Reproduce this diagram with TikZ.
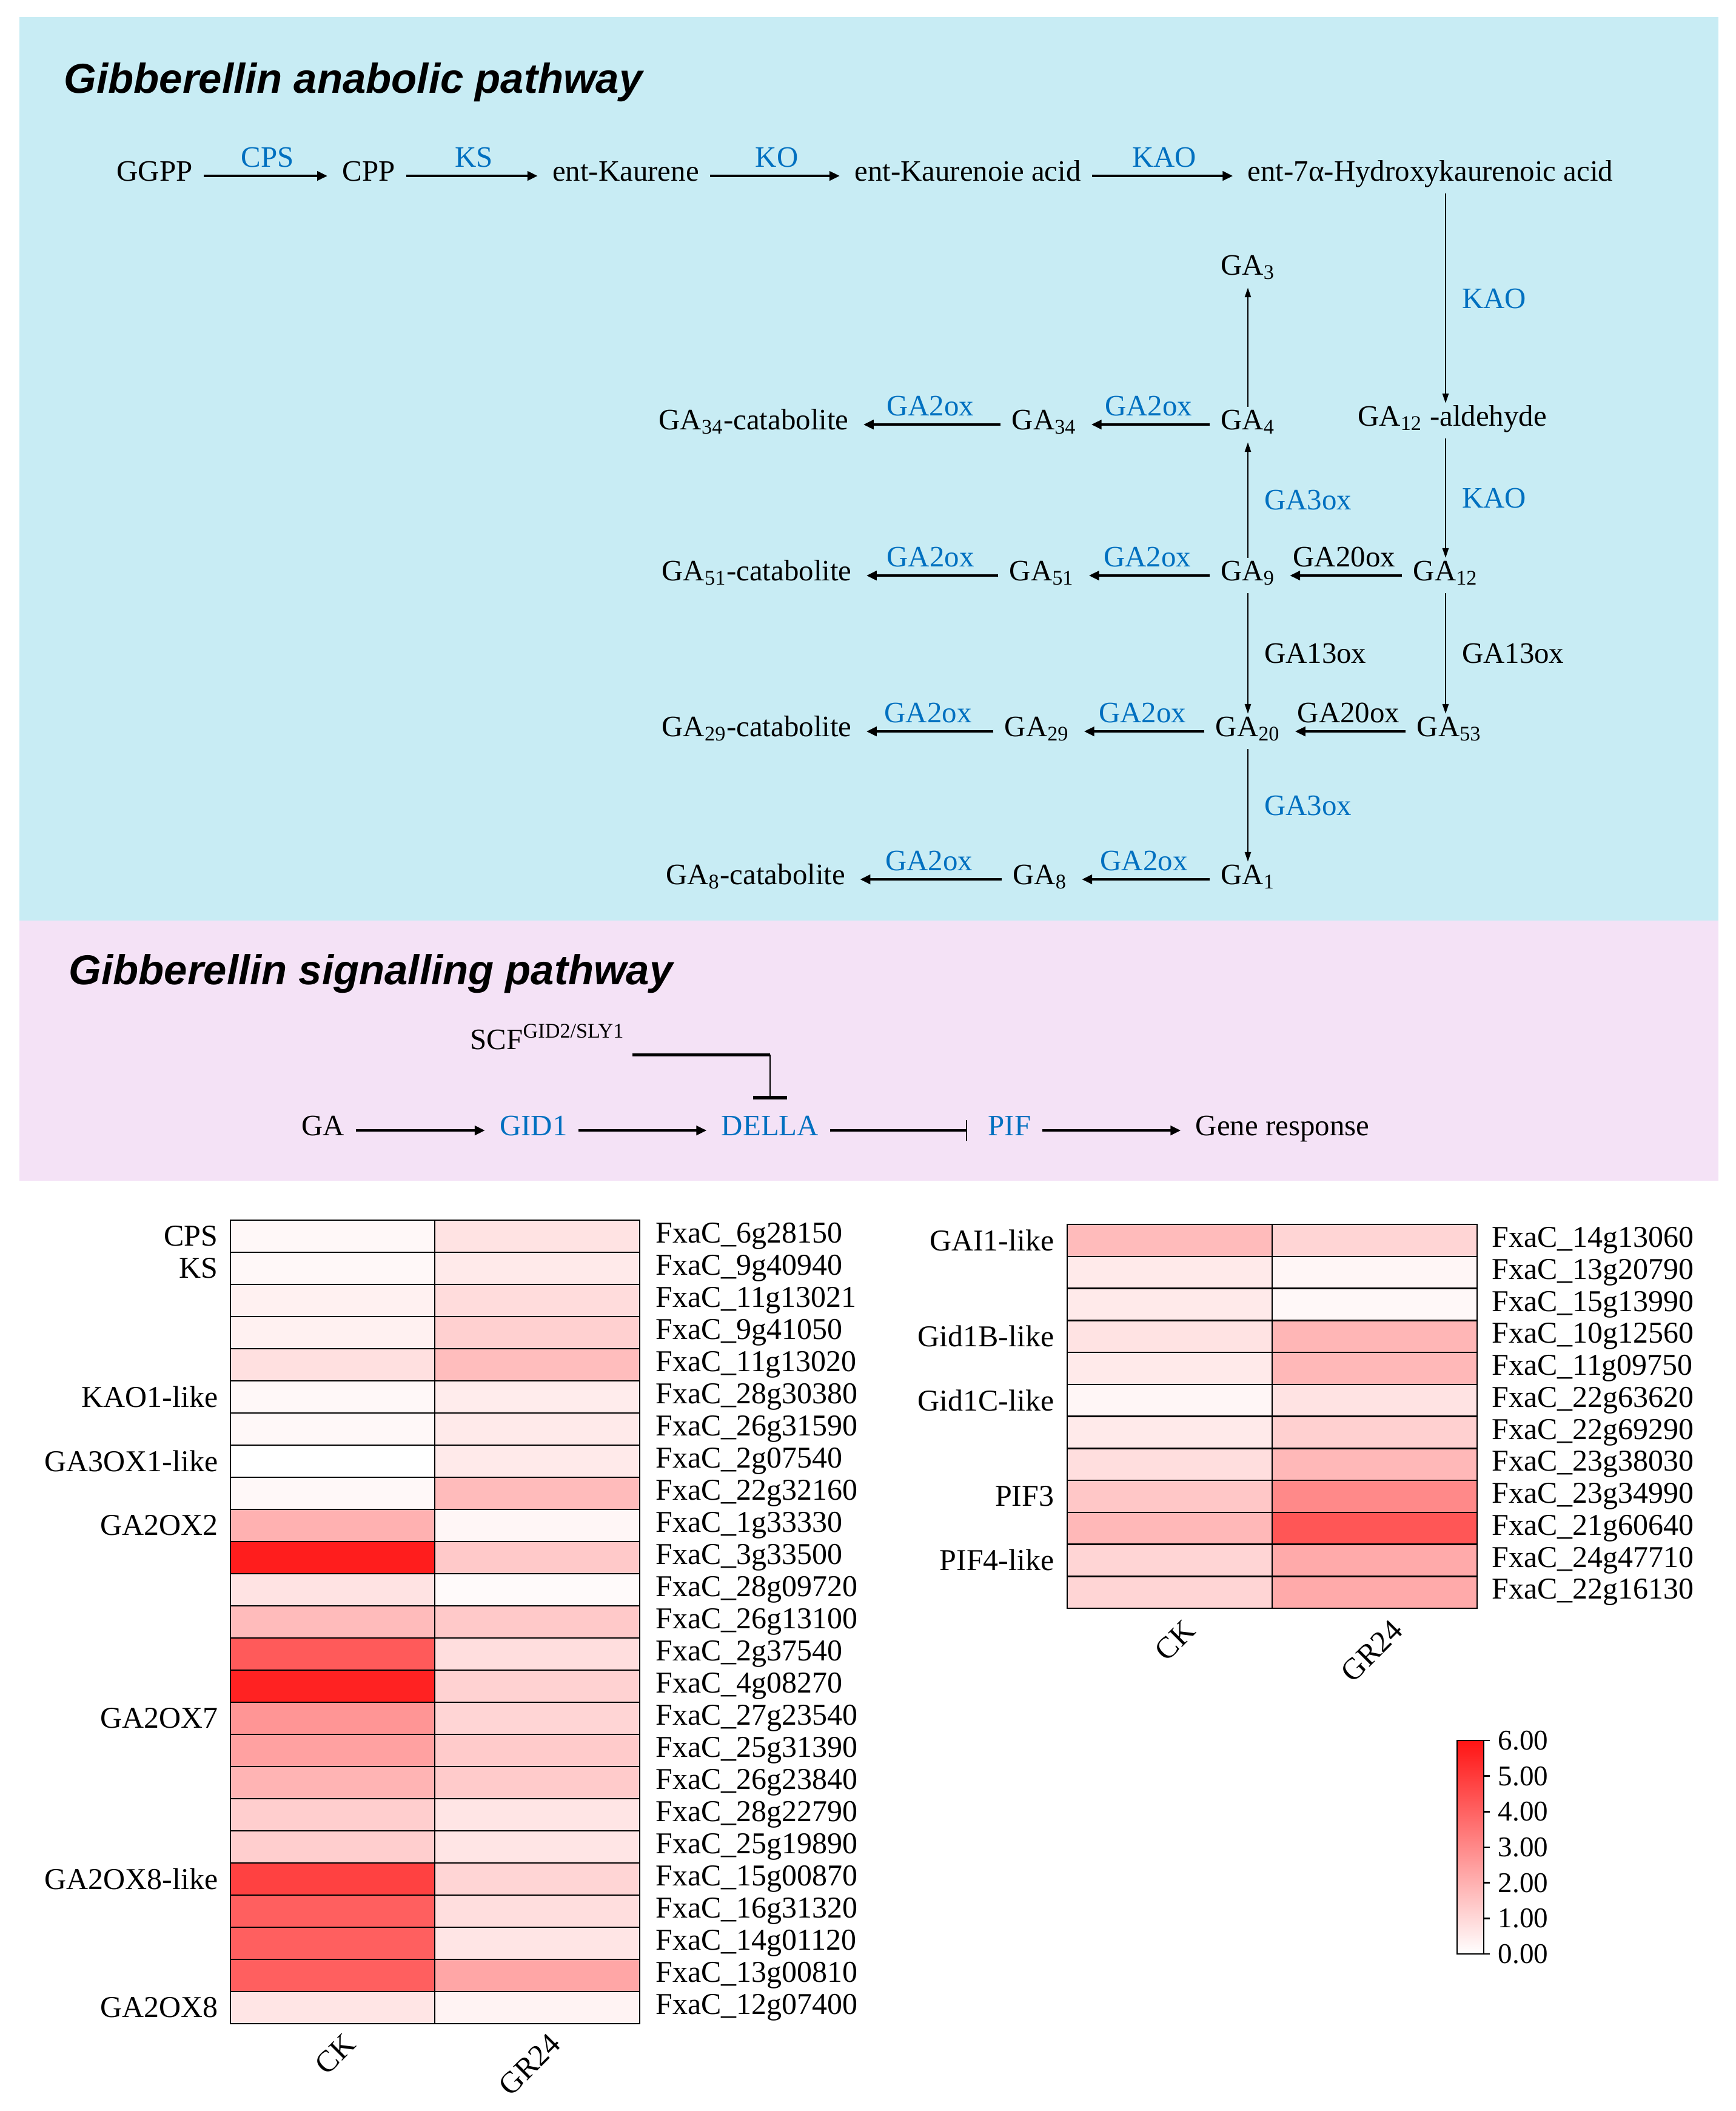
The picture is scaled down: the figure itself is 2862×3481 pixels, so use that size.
\documentclass[tikz,border=0pt]{standalone}
\usepackage{fontspec}
\setmainfont{Liberation Serif}
\newfontfamily\headfont{Liberation Sans}
\usetikzlibrary{arrows.meta}
\definecolor{anabg}{RGB}{200,236,244}
\definecolor{sigbg}{RGB}{244,226,246}
\definecolor{enzblue}{RGB}{0,112,192}
\definecolor{hmred}{RGB}{255,20,20}

\begin{document}
\begin{tikzpicture}[x=0.01cm, y=-0.01cm,
  cmp/.style={font=\fontsize{13.9}{16}\selectfont, text height=0.7em, text depth=0.25em, anchor=base},
  enz/.style={font=\fontsize{13.9}{16}\selectfont, text=enzblue},
  enzk/.style={font=\fontsize{13.9}{16}\selectfont},
  rxn/.style={line width=1.3pt, shorten <=0.06cm, shorten >=0.12cm, -{Triangle[length=0.17cm,width=0.15cm]}},
  rxnv/.style={line width=0.75pt, -{Triangle[length=0.16cm,width=0.1cm]}},
  blk/.style={line width=1.3pt, -{Bar[width=0.34cm,line width=0.75pt]}},
  head/.style={font=\headfont\fontsize{19.6}{22}\selectfont\bfseries\itshape, anchor=base west, inner sep=0pt},
  hm/.style={font=\fontsize{14.2}{16}\selectfont, inner sep=0pt},
  cell/.style={draw=black, line width=0.7pt}]
\fill[white] (0,0) rectangle (2862,3481);
\useasboundingbox (0,0) rectangle (2862,3481);
\fill[anabg] (32,28) rectangle (2834,1518);
\fill[sigbg] (32,1518) rectangle (2834,1947);

\node[head] (anatitle) at (105,153) {Gibberellin anabolic pathway};
\node[head] (sigtitle) at (113,1623) {Gibberellin signalling pathway};

\node[cmp] (ggpp) at (255,298) {GGPP};
\node[cmp] (cpp) at (608,298) {CPP};
\node[cmp] (kaurene) at (1032,298) {ent-Kaurene};
\node[cmp] (kacid) at (1596,298) {ent-Kaurenoie acid};
\node[cmp] (hacid) at (2359,298) {ent-7α-Hydroxykaurenoic acid};
\node[cmp] (ga3) at (2058,453) {GA\textsubscript{3}};
\node[cmp] (ga4) at (2058,708) {GA\textsubscript{4}};
\node[cmp] (ga34) at (1722,708) {GA\textsubscript{34}};
\node[cmp] (ga34c) at (1243,708) {GA\textsubscript{34}-catabolite};
\node[cmp] (ga12ald) at (2395,702) {GA\textsubscript{12} -aldehyde};
\node[cmp] (ga9) at (2058,957) {GA\textsubscript{9}};
\node[cmp] (ga51) at (1718,957) {GA\textsubscript{51}};
\node[cmp] (ga51c) at (1248,957) {GA\textsubscript{51}-catabolite};
\node[cmp] (ga12) at (2384,957) {GA\textsubscript{12}};
\node[cmp] (ga20) at (2058,1214) {GA\textsubscript{20}};
\node[cmp] (ga29) at (1710,1214) {GA\textsubscript{29}};
\node[cmp] (ga29c) at (1248,1214) {GA\textsubscript{29}-catabolite};
\node[cmp] (ga53) at (2390,1214) {GA\textsubscript{53}};
\node[cmp] (ga1) at (2058,1458) {GA\textsubscript{1}};
\node[cmp] (ga8) at (1715,1458) {GA\textsubscript{8}};
\node[cmp] (ga8c) at (1246,1458) {GA\textsubscript{8}-catabolite};

\draw[rxn] (ggpp) -- node[enz,above] {CPS} (cpp);
\draw[rxn] (cpp) -- node[enz,above] {KS} (kaurene);
\draw[rxn] (kaurene) -- node[enz,above] {KO} (kacid);
\draw[rxn] (kacid) -- node[enz,above] {KAO} (hacid);
\draw[rxnv] (hacid.south -| ga12) -- node[enz,right,xshift=0.14cm] {KAO} (ga12ald.north -| ga12);
\draw[rxnv] (ga12ald.south -| ga12) -- node[enz,right,xshift=0.14cm] {KAO} (ga12);
\draw[rxnv] (ga12) -- node[enzk,right,xshift=0.14cm] {GA13ox} (ga12 |- ga53.north);
\draw[rxn] (ga12) -- node[enzk,above] {GA20ox} (ga9);
\draw[rxn] (ga53) -- node[enzk,above] {GA20ox} (ga20);
\draw[rxnv] (ga9) -- node[enz,right,xshift=0.14cm] {GA3ox} (ga4);
\draw[rxnv] (ga4) -- (ga3);
\draw[rxnv] (ga9) -- node[enzk,right,xshift=0.14cm] {GA13ox} (ga20);
\draw[rxnv] (ga20) -- node[enz,right,xshift=0.14cm] {GA3ox} (ga1);
\draw[rxn] (ga4) -- node[enz,above] {GA2ox} (ga34);
\draw[rxn] (ga34) -- node[enz,above] {GA2ox} (ga34c);
\draw[rxn] (ga9) -- node[enz,above] {GA2ox} (ga51);
\draw[rxn] (ga51) -- node[enz,above] {GA2ox} (ga51c);
\draw[rxn] (ga20) -- node[enz,above] {GA2ox} (ga29);
\draw[rxn] (ga29) -- node[enz,above] {GA2ox} (ga29c);
\draw[rxn] (ga1) -- node[enz,above] {GA2ox} (ga8);
\draw[rxn] (ga8) -- node[enz,above] {GA2ox} (ga8c);

\node[cmp] (scf) at (903,1730) {SCF\textsuperscript{GID2/SLY1}};
\node[cmp] (ga) at (533,1872) {GA};
\node[cmp,text=enzblue] (gid1) at (880,1872) {GID1};
\node[cmp,text=enzblue] (della) at (1270,1872) {DELLA};
\node[cmp,text=enzblue] (pif) at (1665,1872) {PIF};
\node[cmp] (generesp) at (2115,1872) {Gene response};
\draw[rxn] (ga) -- (gid1);
\draw[rxn] (gid1) -- (della);
\draw[blk, shorten <=0.06cm, shorten >=0.22cm] (della) -- (pif);
\draw[rxn] (pif) -- (generesp);
\coordinate (scfout) at ([yshift=0.12cm]scf.south east);
\draw[line width=1.4pt] (scfout) -- (scfout -| della) coordinate (scfbend);
\draw[line width=0.75pt, -{Bar[width=0.55cm,line width=1.6pt]}] (scfbend) -- ([yshift=0.22cm]della.north);

\foreach \gene/\ck/\gr [count=\i] in {6g28150/3/12, 9g40940/3/9, 11g13021/6/15, 9g41050/6/20, 11g13020/13/28, 28g30380/3/8, 26g31590/3/9, 2g07540/0/9, 22g32160/3/29, 1g33330/33/4, 3g33500/96/23, 28g09720/12/2, 26g13100/29/23, 2g37540/70/14, 4g08270/94/19, 27g23540/45/18, 25g31390/40/22, 26g23840/32/22, 28g22790/21/11, 25g19890/21/11, 15g00870/81/18, 16g31320/68/14, 14g01120/68/11, 13g00810/68/38, 12g07400/11/5}{
  \filldraw[cell, fill=hmred!\ck!white] (380,{2012+(\i-1)*53}) rectangle (717,{2012+\i*53});
  \filldraw[cell, fill=hmred!\gr!white] (717,{2012+(\i-1)*53}) rectangle (1055,{2012+\i*53});
  \node[hm, anchor=west] (genL\i) at (1081,{2012+(\i-0.5)*53}) {FxaC\_\gene};
}
\foreach \grp/\r in {CPS/1, KS/2, KAO1-like/6, GA3OX1-like/8, GA2OX2/10, GA2OX7/16, GA2OX8-like/21, GA2OX8/25}
  \node[hm, anchor=east] (grpL\r) at (360,{2012+(\r-0.5)*53}) {\grp};
\node[hm, rotate=45, anchor=east] (ckL) at (578,3362) {CK};
\node[hm, rotate=45, anchor=east] (gr24L) at (916,3362) {GR24};

\foreach \gene/\ck/\gr [count=\i] in {14g13060/29/18, 13g20790/9/4, 15g13990/9/3, 10g12560/12/31, 11g09750/9/30, 22g63620/4/12, 22g69290/9/20, 23g38030/14/30, 23g34990/24/50, 21g60640/30/72, 24g47710/18/36, 22g16130/18/36}{
  \filldraw[cell, fill=hmred!\ck!white] (1760,{2019+(\i-1)*52.75}) rectangle (2098,{2019+\i*52.75});
  \filldraw[cell, fill=hmred!\gr!white] (2098,{2019+(\i-1)*52.75}) rectangle (2436,{2019+\i*52.75});
  \node[hm, anchor=west] (genR\i) at (2460,{2019+(\i-0.5)*52.75}) {FxaC\_\gene};
}
\foreach \grp/\r in {GAI1-like/1, Gid1B-like/4, Gid1C-like/6, PIF3/9, PIF4-like/11}
  \node[hm, anchor=east] (grpR\r) at (1739,{2019+(\r-0.5)*52.75}) {\grp};
\node[hm, rotate=45, anchor=east] (ckR) at (1963,2680) {CK};
\node[hm, rotate=45, anchor=east] (gr24R) at (2305,2680) {GR24};

\shade[bottom color=white, top color=hmred] (2403,2870) rectangle (2447,3222);
\draw[line width=0.7pt] (2403,2870) rectangle (2447,3222);
\foreach \v in {0,...,6}{
  \draw[line width=0.7pt] (2447,{3222-\v*58.67}) -- (2457,{3222-\v*58.67});
  \node[hm, anchor=west, font=\fontsize{13.4}{15}\selectfont] (cb\v) at (2470,{3222-\v*58.67}) {\v.00};
}
\end{tikzpicture}
\end{document}
